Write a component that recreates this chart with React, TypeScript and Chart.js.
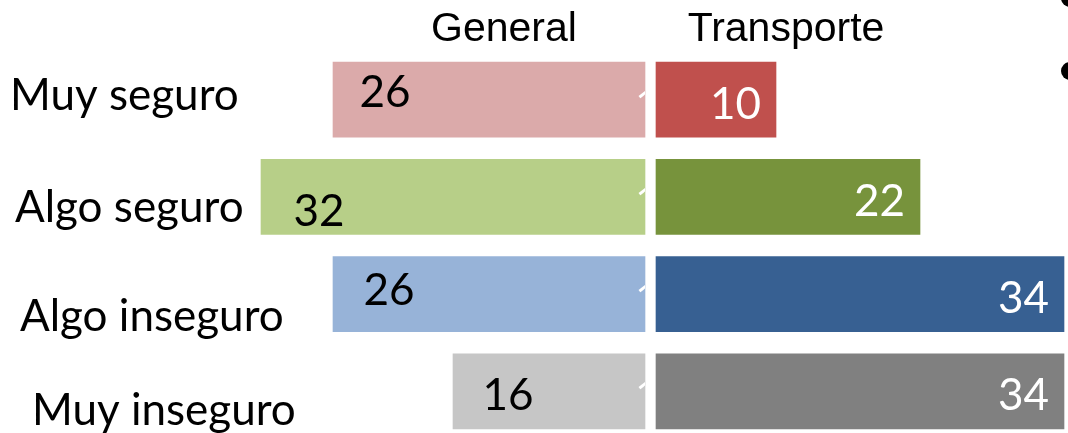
import React, { useEffect, useRef } from 'react';
import { Chart, registerables } from 'chart.js';

Chart.register(...registerables);

// ---- data ----
const categories = ['Muy seguro', 'Algo seguro', 'Algo inseguro', 'Muy inseguro'];
const seriesTitles = ['General', 'Transporte'];
const generalValues = [26, 32, 26, 16];
const transporteValues = [10, 22, 34, 34];

// ---- styles ----
const generalColors = ['#DBAAAA', '#B7CF88', '#97B3D8', '#C6C6C6'];
const transporteColors = ['#C0504D', '#77933C', '#376092', '#808080'];

const WIDTH = 1068;
const HEIGHT = 440;
const PX_PER_UNIT = 12;
const GENERAL_ZERO = 645;
const TRANSPORTE_ZERO = 656;

const LABEL_FONT = 'Lato, "Open Sans", sans-serif';
const TITLE_FONT = '"Liberation Sans", Arial, sans-serif';
const FRAGMENT_FONT = '"Open Sans", sans-serif';

// label placement relative to bars (slide text-box quirks)
const categoryLabelX = [10, 15, 20, 32];
const categoryLabelDy = [10, 25, 37, 34];
const generalLabelDx = [52, 58, 56, 55];
const generalLabelDy = [7, 29, 11, 19];

const overlayPlugin = {
  id: 'overlay',
  afterDatasetsDraw(chart: any) {
    const ctx = chart.ctx as CanvasRenderingContext2D;
    const gMeta = chart.getDatasetMeta(0);
    const tMeta = chart.getDatasetMeta(1);
    ctx.save();
    ctx.textBaseline = 'alphabetic';

    // titles
    ctx.fillStyle = '#000';
    ctx.font = `41px ${TITLE_FONT}`;
    ctx.textAlign = 'center';
    ctx.fillText(seriesTitles[0], 504, 41);
    ctx.fillText(seriesTitles[1], 786, 41);

    gMeta.data.forEach((el: any, i: number) => {
      // category label
      ctx.font = `44px ${LABEL_FONT}`;
      ctx.fillStyle = '#000';
      ctx.textAlign = 'left';
      ctx.fillText(categories[i], categoryLabelX[i], el.y + categoryLabelDy[i]);
      // general value label
      ctx.font = `44px ${LABEL_FONT}`;
      ctx.textAlign = 'center';
      ctx.fillText(String(generalValues[i]), el.x + generalLabelDx[i], el.y + generalLabelDy[i]);
    });

    // clipped white "1" fragments between the two bar groups (only the flag shows)
    ctx.save();
    ctx.beginPath();
    ctx.rect(0, 0, GENERAL_ZERO, HEIGHT);
    ctx.clip();
    gMeta.data.forEach((el: any) => {
      ctx.font = `40px ${FRAGMENT_FONT}`;
      ctx.fillStyle = '#FFFFFF';
      ctx.textAlign = 'left';
      ctx.fillText('1', el.base - 10, el.y + 19);
    });
    ctx.restore();

    tMeta.data.forEach((el: any, i: number) => {
      ctx.font = `44px ${LABEL_FONT}`;
      ctx.fillStyle = '#FFFFFF';
      ctx.textAlign = 'right';
      ctx.fillText(String(transporteValues[i]), el.x - 15, el.y + 19);
    });

    // slide bullets cut at the right edge
    ctx.fillStyle = '#000';
    [[1070, -2], [1070, 71]].forEach(([cx, cy]) => {
      ctx.beginPath();
      ctx.arc(cx, cy, 9, 0, Math.PI * 2);
      ctx.fill();
    });
    ctx.restore();
  },
};

export default function App() {
  const canvasRef = useRef<HTMLCanvasElement | null>(null);

  useEffect(() => {
    if (!canvasRef.current) return;
    let alive = true;
    const chart = new Chart(canvasRef.current, {
      type: 'bar',
      data: {
        labels: categories,
        datasets: [
          {
            label: seriesTitles[0],
            data: generalValues,
            backgroundColor: generalColors,
            xAxisID: 'xGeneral',
            grouped: false,
            barThickness: 75,
            borderWidth: 0,
          } as any,
          {
            label: seriesTitles[1],
            data: transporteValues,
            backgroundColor: transporteColors,
            xAxisID: 'xTransporte',
            grouped: false,
            barThickness: 75,
            borderWidth: 0,
          } as any,
        ],
      },
      options: {
        indexAxis: 'y',
        responsive: false,
        animation: false,
        layout: { padding: { top: 51, left: 0, right: 0, bottom: 0 } },
        plugins: {
          legend: { display: false },
          tooltip: { enabled: false },
          title: { display: false },
        },
        scales: {
          y: { type: 'category', display: false, offset: true, grid: { display: false } },
          xGeneral: {
            type: 'linear',
            display: false,
            reverse: true,
            min: -(WIDTH - GENERAL_ZERO) / PX_PER_UNIT,
            max: GENERAL_ZERO / PX_PER_UNIT,
          },
          xTransporte: {
            type: 'linear',
            display: false,
            min: -TRANSPORTE_ZERO / PX_PER_UNIT,
            max: (WIDTH - TRANSPORTE_ZERO) / PX_PER_UNIT,
          },
        },
      } as any,
      plugins: [overlayPlugin],
    });
    const fonts = (document as any).fonts;
    if (fonts && fonts.load) {
      Promise.all([
        fonts.load('44px Lato'),
        fonts.load('41px "Liberation Sans"'),
        fonts.load('40px "Open Sans"'),
      ])
        .then(() => { if (alive) chart.update(); })
        .catch(() => {});
    }
    return () => {
      alive = false;
      chart.destroy();
    };
  }, []);

  return (
    <div style={{ position: 'fixed', left: 0, top: 0, width: WIDTH, height: 433, overflow: 'hidden', background: '#fff' }}>
      <canvas ref={canvasRef} width={WIDTH} height={HEIGHT} style={{ display: 'block' }} />
    </div>
  );
}
